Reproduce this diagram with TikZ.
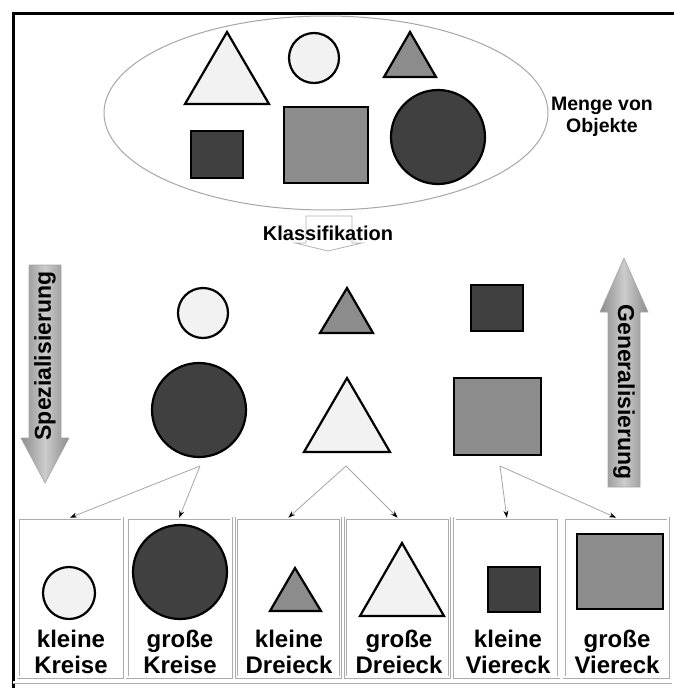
\documentclass[tikz,border=0pt]{standalone}
\usepackage{fontspec}
\setmainfont{Liberation Sans}
\usetikzlibrary{arrows.meta}
\definecolor{fillL}{gray}{0.95}
\definecolor{fillM}{gray}{0.55}
\definecolor{fillD}{gray}{0.25}

\begin{document}
\begin{tikzpicture}[x=1pt, y=-1pt, >=Stealth,
  obj/.style={draw=black, line width=2.2pt},
  classbox/.style={draw=gray!65, double=white, double distance=1.6pt, line width=0.7pt,
    minimum width=104pt, minimum height=159pt, inner sep=0pt},
  conn/.style={draw=gray!70, line width=0.8pt, -{Stealth[color=black, length=7pt, width=5pt]}},
  lbl/.style={font=\bfseries\fontsize{24}{26}\selectfont, align=center},
  bigarrow/.style={draw=gray!70, line width=0.6pt, left color=black!45, right color=black!45, middle color=black!20}]
\useasboundingbox (0,0) rectangle (674,688);
% Rahmen
\draw[line width=3pt] (13,688) -- (13,13) -- (674,13);
\draw[draw=gray!65, double=white, double distance=1.6pt, line width=0.7pt] (13,682) -- (672,682);
% Menge von Objekte
\draw[gray!70, line width=1pt] (326,113) ellipse (222 and 97);
\draw[obj, fill=fillL] (227,32) -- (185,104) -- (269,104) -- cycle;
\draw[obj, fill=fillL] (314,58) circle (25);
\draw[obj, fill=fillM] (410,32) -- (384,77) -- (436,77) -- cycle;
\draw[obj, fill=fillD] (191,131) rectangle (243,178);
\draw[obj, fill=fillM] (284,107) rectangle (368,183);
\draw[obj, fill=fillD] (438,137) circle (47);
\node[font=\bfseries\fontsize{19.5}{22}\selectfont, align=center] (menge) at (602,117) {Menge von\\Objekte};
% Klassifikation
\draw[gray!60, line width=0.8pt, fill=white] (306,216) -- (352,216) -- (352,243) -- (362,243)
  -- (328,251) -- (295,243) -- (306,243) -- cycle;
\node[font=\bfseries\fontsize{20}{24}\selectfont] (klass) at (328,233) {Klassifikation};
% Spezialisierung / Generalisierung
\draw[bigarrow] (29,265) -- (61,265) -- (61,438) -- (69,438) -- (45,483) -- (21,438) -- (29,438) -- cycle;
\node[rotate=90, font=\bfseries\fontsize{23}{26}\selectfont] (spez) at (45,356) {Spezialisierung};
\draw[bigarrow] (608,487) -- (640,487) -- (640,312) -- (648,312) -- (624,258) -- (600,312) -- (608,312) -- cycle;
\node[rotate=-90, font=\bfseries\fontsize{23}{26}\selectfont] (gen) at (624,392) {Generalisierung};
% Klassen
\draw[obj, fill=fillL] (203,313) circle (25);
\draw[obj, fill=fillM] (347,288) -- (320,333) -- (373,333) -- cycle;
\draw[obj, fill=fillD] (471,285) rectangle (523,331);
\draw[obj, fill=fillD] (199,410) circle (47);
\draw[obj, fill=fillL] (347,378) -- (304,452) -- (390,452) -- cycle;
\draw[obj, fill=fillM] (454,378) rectangle (541,455);
% Unterklassen
\node[classbox] (kleinKreis) at (70,597.5) {};
\node[classbox] (grossKreis) at (179.2,597.5) {};
\node[classbox] (kleinDrei) at (288.4,597.5) {};
\node[classbox] (grossDrei) at (397.6,597.5) {};
\node[classbox] (kleinVier) at (506.8,597.5) {};
\node[classbox] (grossVier) at (616,597.5) {};
\draw[obj, fill=fillL] (69,593) circle (26);
\draw[obj, fill=fillD] (180,572) circle (47);
\draw[obj, fill=fillM] (295,568) -- (270,611) -- (321,611) -- cycle;
\draw[obj, fill=fillL] (402,543) -- (360,616) -- (444,616) -- cycle;
\draw[obj, fill=fillD] (488,567) rectangle (540,612);
\draw[obj, fill=fillM] (577,534) rectangle (663,609);
\node[lbl] (kleinKreisTxt) at (71,652) {kleine\\Kreise};
\node[lbl] (grossKreisTxt) at (180,652) {große\\Kreise};
\node[lbl] (kleinDreiTxt) at (289,652) {kleine\\Dreieck};
\node[lbl] (grossDreiTxt) at (399,652) {große\\Dreieck};
\node[lbl] (kleinVierTxt) at (508,652) {kleine\\Viereck};
\node[lbl] (grossVierTxt) at (617,652) {große\\Viereck};
% Aufteilung
\coordinate (kreisFork) at (200,466);
\coordinate (dreiFork) at (346,466);
\coordinate (vierFork) at (500,466);
\draw[conn] (kreisFork) -- (kleinKreis.north);
\draw[conn] (kreisFork) -- (grossKreis.north);
\draw[conn] (dreiFork) -- (kleinDrei.north);
\draw[conn] (dreiFork) -- (grossDrei.north);
\draw[conn] (vierFork) -- (kleinVier.north);
\draw[conn] (vierFork) -- (grossVier.north);
\end{tikzpicture}
\end{document}
